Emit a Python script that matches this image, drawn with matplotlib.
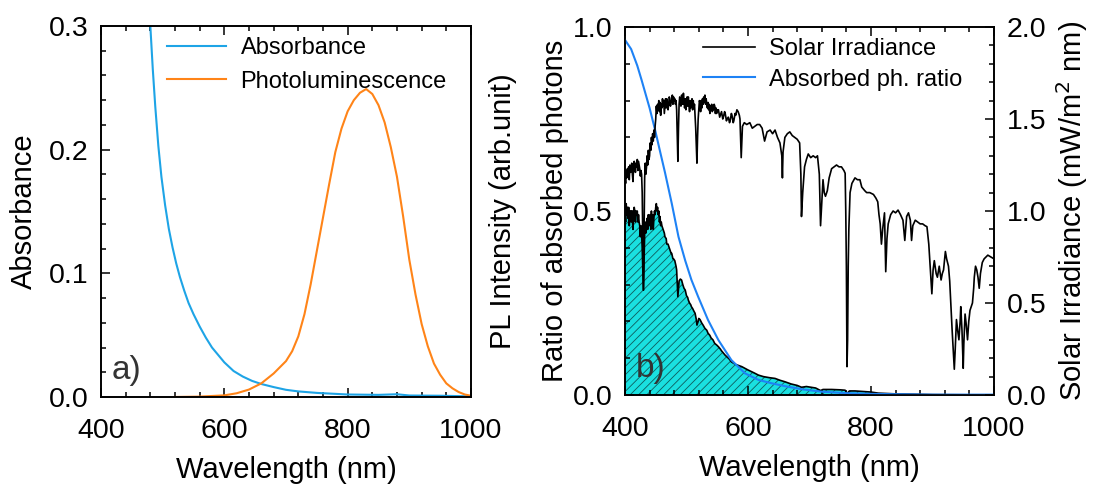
import matplotlib
matplotlib.use("Agg")
import matplotlib.pyplot as plt
from matplotlib.ticker import MultipleLocator, FormatStrFormatter

plt.rcParams['font.family'] = ['Liberation Sans', 'DejaVu Sans']
plt.rcParams['hatch.linewidth'] = 0.6

# ---------------- Panel a) data ----------------
abs_wl = [470, 475, 480, 484, 488, 493, 498, 504, 510, 516, 522, 528, 535, 542, 550, 560, 570,
          580, 590, 600, 615, 630, 645, 660, 680, 700, 720, 750, 800, 850, 880, 900, 950, 1000]
abs_val = [0.41, 0.35, 0.30, 0.265, 0.235, 0.203, 0.178, 0.155, 0.136, 0.121, 0.108, 0.097,
           0.086, 0.076, 0.067, 0.057, 0.048, 0.040, 0.034, 0.028, 0.021, 0.0165, 0.013,
           0.0105, 0.008, 0.0058, 0.0045, 0.0033, 0.002, 0.0017, 0.0022, 0.0012, 0.001, 0.0005]

pl_wl = [520, 560, 600, 620, 640, 660, 680, 700, 710, 720, 730, 740, 750, 760, 770, 780, 790,
         800, 810, 820, 830, 840, 850, 860, 870, 880, 890, 900, 910, 920, 930, 940, 950, 960,
         970, 980, 990, 1000]
pl_val = [0.0, 0.0003, 0.0013, 0.003, 0.006, 0.011, 0.019, 0.029, 0.037, 0.049, 0.067, 0.091,
          0.118, 0.145, 0.172, 0.198, 0.217, 0.231, 0.240, 0.246, 0.249, 0.245, 0.236, 0.222,
          0.202, 0.178, 0.146, 0.111, 0.083, 0.059, 0.041, 0.027, 0.018, 0.011, 0.007, 0.004,
          0.002, 0.001]

# ---------------- Panel b) data ----------------
sol_wl = [400, 401, 402, 403, 404, 405, 406, 407, 408, 409, 410, 411, 412, 413, 414, 415, 416,
          417, 418, 419, 420, 421, 422, 423, 424, 425, 426, 427, 428, 429, 430, 431, 432, 433,
          434, 435, 436, 437, 438, 439, 440, 441, 442, 443, 444, 445, 446, 447, 448, 449, 450,
          451, 452, 453, 454, 455, 456, 457, 458, 459, 460, 461, 462, 463, 464, 465, 466, 467,
          468, 469, 470, 471, 472, 473, 474, 475, 476, 477, 478, 479, 480, 481, 482, 483, 484,
          485, 486, 487, 488, 489, 490, 491, 492, 493, 494, 495, 496, 497, 498, 499, 500, 501,
          502, 503, 504, 505, 506, 507, 508, 509, 510, 511, 512, 513, 514, 515, 516, 517, 518,
          519, 520, 521, 522, 523, 524, 525, 526, 527, 528, 529, 530, 531, 532, 533, 534, 535,
          536, 537, 538, 539, 540, 541, 542, 543, 544, 545, 546, 547, 548, 549, 550, 552, 554,
          555, 557, 559, 560, 562, 563, 565, 566, 568, 570, 571, 573, 574, 576, 577, 579, 580,
          582, 584, 586, 587, 588, 589, 590, 591, 594, 598, 603, 607, 611, 615, 619, 623, 627,
          631, 636, 640, 644, 648, 652, 655, 656, 657, 660, 664, 668, 672, 676, 680, 684, 686,
          687, 689, 692, 695, 698, 702, 706, 710, 713, 716, 718, 720, 722, 724, 726, 729, 732,
          736, 740, 744, 748, 752, 756, 758, 759, 760, 761, 762, 763, 764, 766, 769, 774, 778,
          782, 785, 790, 793, 798, 804, 808, 811, 813, 815, 817, 819, 822, 824, 826, 828, 832,
          836, 840, 844, 848, 852, 855, 858, 861, 864, 866, 868, 872, 876, 880, 884, 888, 891,
          894, 897, 899, 901, 903, 906, 908, 911, 914, 916, 918, 921, 923, 926, 928, 930, 932,
          934, 935.5, 937, 939, 941, 943, 945, 946, 948, 950, 951, 953, 955, 957, 959, 961, 963,
          965, 967, 968, 970, 972, 974, 976, 978, 981, 984, 987, 990, 995, 1000]
sol_val = [1.19, 1.15, 1.22, 1.18, 1.23, 1.20, 1.24, 1.17, 1.25, 1.21, 1.22, 1.26, 1.20, 1.16,
           1.24, 1.27, 1.25, 1.21, 1.26, 1.24, 1.28, 1.22, 1.27, 1.25, 1.23, 1.19, 1.22, 1.20,
           1.10, 0.85, 0.57, 0.90, 1.18, 1.26, 1.20, 1.24, 1.30, 1.25, 1.33, 1.28, 1.30, 1.37,
           1.33, 1.40, 1.36, 1.42, 1.38, 1.44, 1.40, 1.46, 1.50, 1.57, 1.53, 1.58, 1.55, 1.60,
           1.54, 1.59, 1.52, 1.58, 1.56, 1.61, 1.57, 1.60, 1.53, 1.57, 1.61, 1.56, 1.61, 1.58,
           1.55, 1.58, 1.62, 1.61, 1.57, 1.60, 1.59, 1.63, 1.58, 1.62, 1.60, 1.61, 1.58, 1.60,
           1.55, 1.40, 1.27, 1.45, 1.58, 1.62, 1.60, 1.57, 1.63, 1.62, 1.58, 1.64, 1.60, 1.56,
           1.61, 1.55, 1.58, 1.62, 1.57, 1.62, 1.58, 1.54, 1.60, 1.56, 1.57, 1.61, 1.55, 1.60,
           1.56, 1.58, 1.52, 1.45, 1.35, 1.26, 1.40, 1.50, 1.55, 1.60, 1.59, 1.54, 1.60, 1.56,
           1.61, 1.58, 1.62, 1.59, 1.63, 1.58, 1.61, 1.58, 1.56, 1.59, 1.55, 1.58, 1.53, 1.57,
           1.55, 1.58, 1.54, 1.56, 1.55, 1.58, 1.57, 1.53, 1.56, 1.53, 1.55, 1.55, 1.51, 1.52,
           1.54, 1.50, 1.51, 1.54, 1.53, 1.49, 1.50, 1.51, 1.48, 1.49, 1.53, 1.52, 1.48, 1.49,
           1.53, 1.52, 1.55, 1.54, 1.52, 1.50, 1.40, 1.29, 1.38, 1.46, 1.48, 1.47, 1.48, 1.45,
           1.46, 1.47, 1.47, 1.45, 1.38, 1.43, 1.44, 1.42, 1.44, 1.40, 1.37, 1.30, 1.18, 1.32,
           1.40, 1.42, 1.43, 1.41, 1.40, 1.39, 1.37, 1.20, 0.97, 1.10, 1.24, 1.28, 1.31, 1.29,
           1.30, 1.29, 1.30, 1.20, 0.92, 1.05, 1.17, 1.10, 1.08, 1.11, 1.18, 1.23, 1.24, 1.25,
           1.24, 1.24, 1.22, 1.205, 1.0, 0.70, 0.154, 0.30, 0.70, 0.90, 1.10, 1.15, 1.18, 1.17,
           1.17, 1.13, 1.11, 1.10, 1.10, 1.09, 1.07, 1.05, 0.98, 0.93, 0.82, 0.90, 0.99, 0.67,
           0.85, 0.93, 0.98, 1.00, 0.99, 1.005, 0.98, 0.95, 0.84, 0.97, 0.99, 0.95, 0.84, 0.92,
           0.95, 0.94, 0.93, 0.93, 0.92, 0.915, 0.82, 0.66, 0.55, 0.68, 0.73, 0.66, 0.64, 0.70,
           0.625, 0.66, 0.68, 0.78, 0.74, 0.70, 0.62, 0.48, 0.35, 0.23, 0.14, 0.25, 0.41, 0.35,
           0.30, 0.40, 0.48, 0.35, 0.145, 0.28, 0.44, 0.38, 0.30, 0.40, 0.46, 0.48, 0.50, 0.58,
           0.64, 0.70, 0.68, 0.64, 0.58, 0.66, 0.72, 0.74, 0.75, 0.76, 0.75, 0.74]

ratio_wl = [400, 410, 420, 427, 440, 449, 458, 465, 476, 487, 498, 508, 519, 535, 552, 573,
            595, 617, 638, 660, 690, 720, 760, 800, 850, 900, 1000]
ratio_val = [0.965, 0.94, 0.895, 0.856, 0.78, 0.72, 0.655, 0.605, 0.521, 0.43, 0.365, 0.313,
             0.267, 0.204, 0.149, 0.095, 0.059, 0.041, 0.032, 0.024, 0.015, 0.009, 0.005,
             0.003, 0.002, 0.001, 0.001]

absd_wl = [400, 401, 402, 403, 404, 405, 406, 407, 408, 409, 410, 411, 412, 413, 414, 415, 416,
           417, 418, 419, 420, 421, 422, 423, 424, 425, 426, 427, 428, 429, 430, 431, 432, 433,
           434, 435, 436, 437, 438, 439, 440, 441, 442, 443, 444, 445, 446, 447, 448, 449, 450,
           451, 452, 453, 454, 455, 456, 457, 458, 459, 460, 462, 464, 465, 467, 468, 470, 472,
           473, 475, 476, 478, 479, 481, 483, 484, 485, 486, 487, 488, 490, 492, 494, 496, 498,
           500, 502, 503, 505, 507, 508, 510, 512, 514, 516, 517, 518, 519, 520, 522, 524, 525,
           527, 530, 533, 535, 538, 540, 543, 546, 549, 552, 555, 557, 560, 563, 565, 568, 570,
           573, 576, 580, 585, 590, 600, 610, 617, 625, 635, 644, 652, 660, 670, 680, 687, 695,
           703, 710, 718, 722, 736, 750, 758, 761, 765, 774, 790, 800, 812, 825, 840, 870, 900,
           950, 1000]
absd_val = [0.50, 0.47, 0.52, 0.49, 0.51, 0.48, 0.51, 0.46, 0.49, 0.50, 0.47, 0.50, 0.48, 0.45,
            0.49, 0.51, 0.50, 0.47, 0.50, 0.49, 0.50, 0.47, 0.49, 0.47, 0.46, 0.43, 0.46, 0.44,
            0.40, 0.34, 0.285, 0.36, 0.44, 0.47, 0.44, 0.46, 0.48, 0.45, 0.49, 0.46, 0.47, 0.49,
            0.45, 0.50, 0.46, 0.49, 0.45, 0.48, 0.50, 0.49, 0.51, 0.52, 0.50, 0.51, 0.49, 0.50,
            0.47, 0.485, 0.46, 0.47, 0.46, 0.45, 0.44, 0.43, 0.425, 0.41, 0.41, 0.40, 0.395,
            0.385, 0.385, 0.37, 0.37, 0.365, 0.35, 0.34, 0.30, 0.267, 0.29, 0.31, 0.315, 0.3125,
            0.30, 0.29, 0.285, 0.27, 0.265, 0.258, 0.25, 0.245, 0.24, 0.235, 0.228, 0.222,
            0.205, 0.19, 0.195, 0.20, 0.208, 0.205, 0.198, 0.195, 0.19, 0.181, 0.176, 0.168,
            0.162, 0.155, 0.150, 0.140, 0.136, 0.131, 0.125, 0.120, 0.114, 0.108, 0.105, 0.100,
            0.097, 0.090, 0.087, 0.083, 0.080, 0.077, 0.068, 0.060, 0.054, 0.050, 0.047, 0.045,
            0.040, 0.036, 0.030, 0.026, 0.021, 0.023, 0.021, 0.019, 0.012, 0.015, 0.015, 0.014,
            0.013, 0.004, 0.011, 0.011, 0.009, 0.008, 0.005, 0.004, 0.003, 0.002, 0.001, 0.0005,
            0.0]

x_ticks = [400, 600, 800, 1000]

C_ABS = '#1ea4e6'
C_PL = '#ff8418'
C_RATIO = '#1e82f5'
C_FILL = '#1ae0e0'
C_HATCH = '#0d5c5c'

FS_TICK = 20.5
FS_LAB = 21
FS_LEG = 17

fig = plt.figure(figsize=(10.93, 4.84), dpi=100)


def style_axis(ax, xminor, yminor, ymaj):
    ax.xaxis.set_major_locator(MultipleLocator(200))
    ax.xaxis.set_minor_locator(MultipleLocator(xminor))
    ax.yaxis.set_major_locator(MultipleLocator(ymaj))
    ax.yaxis.set_minor_locator(MultipleLocator(yminor))
    ax.tick_params(which='both', direction='in', top=True, labelsize=FS_TICK, width=1.1)
    ax.tick_params(which='major', length=6.5)
    ax.tick_params(which='minor', length=3.5)
    ax.tick_params(axis='y', which='major', pad=9)
    ax.tick_params(axis='x', which='major', pad=15)
    for s in ax.spines.values():
        s.set_linewidth(1.2)


# ---------------- Panel a ----------------
axa = fig.add_axes([0.0924, 0.1798, 0.3385, 0.7665])
la, = axa.plot(abs_wl, abs_val, color=C_ABS, lw=1.5, label='Absorbance')
lp, = axa.plot(pl_wl, pl_val, color=C_PL, lw=1.5, label='Photoluminescence')
axa.set_xlim(400, 1000)
axa.set_ylim(0, 0.3)
style_axis(axa, 40, 0.02, 0.1)
axa.tick_params(which='both', right=True)
axa.set_xticks(x_ticks)
axa.set_yticks([0.0, 0.1, 0.2, 0.3])
axa.yaxis.set_major_formatter(FormatStrFormatter('%.1f'))
axa.set_xlabel('Wavelength (nm)', fontsize=FS_LAB, labelpad=9)
axa.set_ylabel('Absorbance', fontsize=FS_LAB, labelpad=8)
axa.text(0.03, 0.03, 'a)', transform=axa.transAxes, fontsize=24, color='#333333',
         ha='left', va='bottom')
axa.legend(handles=[la, lp], loc='upper left', bbox_to_anchor=(0.16, 0.99), frameon=False,
           fontsize=FS_LEG, handlelength=2.5, handletextpad=0.6, labelspacing=0.5,
           borderpad=0.3, borderaxespad=0)
axa2 = axa.twinx()
axa2.set_ylim(0, 1)
axa2.set_yticks([])
axa2.set_ylabel('PL Intensity (arb.unit)', fontsize=FS_LAB, labelpad=13)
for s in axa2.spines.values():
    s.set_linewidth(1.2)

# ---------------- Panel b ----------------
axb = fig.add_axes([0.5718, 0.1839, 0.3376, 0.7603])
axb.fill_between(absd_wl, absd_val, 0, facecolor=C_FILL, edgecolor=C_HATCH, hatch='////',
                 linewidth=0, zorder=1)
axb.plot(absd_wl, absd_val, color='black', lw=1.2, zorder=2)
lr, = axb.plot(ratio_wl, ratio_val, color=C_RATIO, lw=1.5, zorder=3, label='Absorbed ph. ratio')
axb.set_xlim(400, 1000)
axb.set_ylim(0, 1.0)
style_axis(axb, 40, 0.1, 0.5)
axb.set_xticks(x_ticks)
axb.yaxis.set_major_formatter(FormatStrFormatter('%.1f'))
axb.set_xlabel('Wavelength (nm)', fontsize=FS_LAB, labelpad=9)
axb.set_ylabel('Ratio of absorbed photons', fontsize=FS_LAB, labelpad=3)
axb.text(0.03, 0.03, 'b)', transform=axb.transAxes, fontsize=24, color='#333333',
         ha='left', va='bottom', zorder=5)

axb2 = axb.twinx()
ls, = axb2.plot(sol_wl, sol_val, color='black', lw=1.2, label='Solar Irradiance')
axb2.set_ylim(0, 2.0)
axb2.yaxis.set_major_locator(MultipleLocator(0.5))
axb2.yaxis.set_minor_locator(MultipleLocator(0.1))
axb2.yaxis.set_major_formatter(FormatStrFormatter('%.1f'))
axb2.tick_params(which='both', direction='in', labelsize=FS_TICK, width=1.1)
axb2.tick_params(which='major', length=6.5, pad=9)
axb2.tick_params(which='minor', length=3.5)
axb2.set_ylabel('Solar Irradiance (mW/m$^2$ nm)', fontsize=FS_LAB, labelpad=6)
for s in axb2.spines.values():
    s.set_linewidth(1.2)
axb2.legend(handles=[ls, lr], loc='upper left', bbox_to_anchor=(0.192, 0.99), frameon=False,
            fontsize=FS_LEG, handlelength=2.2, handletextpad=0.6, labelspacing=0.38,
            borderpad=0.3, borderaxespad=0)

fig.savefig('out.png', dpi=100)
